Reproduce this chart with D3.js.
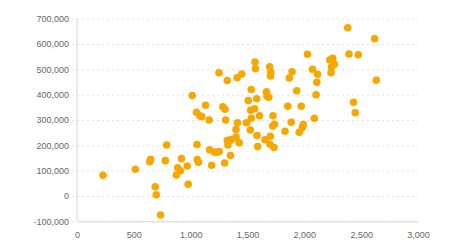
<!DOCTYPE html>
<html>
<head>
<meta charset="utf-8">
<script src="https://cdn.jsdelivr.net/npm/d3@7"></script>
<style>
  body { margin: 0; background: #fff; }
  .axis text { font-family: "Liberation Sans", Arial, sans-serif; font-size: 9px; fill: #666; }
</style>
</head>
<body>
<div id="chart"></div>
<script>
const WIDTH = 464
const HEIGHT = 250
const DOT_COLOR = '#f6a800'
const GRID_COLOR = '#e2e2e2'
const AXIS_COLOR = '#d6d6d6'

const X_TICKS = [0, 500, 1000, 1500, 2000, 2500, 3000]
const Y_TICKS = [-100000, 0, 100000, 200000, 300000, 400000, 500000, 600000, 700000]

// values
const xValues = [
  229, 513, 648, 640, 688, 697, 735, 777, 789, 919,
  970, 886, 909, 874, 978, 1056, 1058, 1069, 1014, 1131,
  1051, 1082, 1098, 1163, 1249, 1322, 1409, 1449, 1566, 1570,
  1695, 1705, 1702, 1892, 1868, 1533, 1507, 1581, 1667, 1672,
  1687, 1933, 1283, 1302, 1308, 1528, 1563, 1533, 1606, 1724,
  1855, 1973, 1412, 1491, 1399, 1525, 1584, 1722, 1738, 1830,
  1885, 1955, 1991, 1982, 1167, 1208, 1230, 1251, 1185, 1299,
  1350, 1322, 1342, 1357, 1399, 1328, 1427, 1590, 1654, 1701,
  1698, 1733, 2028, 2072, 2116, 2110, 2103, 2088, 2224, 2250,
  2264, 2239, 2235, 2382, 2393, 2475, 2619, 2633, 2433, 2448
]
const yValues = [
  81700, 105800, 145300, 135400, 36300, 5100, -75000, 139400, 201300, 147300,
  118400, 111700, 99900, 82900, 46200, 203300, 144100, 133400, 396800, 358100,
  330400, 317000, 312700, 300000, 486800, 456000, 466700, 481700, 529000, 502600,
  510500, 488800, 473800, 490700, 465900, 420500, 377000, 384100, 411800, 394000,
  390100, 415700, 352200, 342700, 300000, 338300, 344700, 307200, 317000, 317000,
  354100, 354500, 289000, 289400, 262500, 260600, 238900, 276400, 283500, 255400,
  291000, 251500, 282300, 270400, 182800, 173700, 172900, 175700, 121200, 130300,
  159900, 219100, 221100, 222300, 232900, 201300, 210000, 195400, 221900, 235700,
  204500, 191500, 559800, 500600, 480900, 449300, 399500, 307200, 536900, 544000,
  520300, 509300, 486800, 664400, 560600, 557800, 621000, 457200, 369900, 328900
]

const margin = {top: 18.7, right: 46, bottom: 28.7, left: 77}
const plotW = WIDTH - margin.left - margin.right
const plotH = HEIGHT - margin.top - margin.bottom

const svg = d3.select('#chart').append('svg')
  .attr('width', WIDTH).attr('height', HEIGHT)
const g = svg.append('g').attr('transform', `translate(${margin.left}, ${margin.top})`)

const x = d3.scaleLinear().domain([0, 3000]).range([0, plotW])
const y = d3.scaleLinear().domain([-100000, 700000]).range([plotH, 0])

const fmt = d3.formatLocale({decimal: '.', thousands: ',', grouping: [3], currency: ['', ''], minus: '-'}).format(',')

// horizontal grid lines, a little past the axis on the left
const yAxis = d3.axisLeft(y).tickValues(Y_TICKS).tickFormat(fmt).tickSize(5).tickPadding(3)
const yAxisEl = g.append('g').attr('class', 'axis').call(yAxis)
yAxisEl.select('.domain').remove()
yAxisEl.selectAll('.tick line')
  .attr('x2', plotW)
  .attr('x1', -5)
  .attr('stroke', GRID_COLOR)
  .attr('stroke-dasharray', '2,3')

// vertical axis line
g.append('line')
  .attr('x1', 0).attr('x2', 0)
  .attr('y1', 0).attr('y2', plotH)
  .attr('stroke', AXIS_COLOR)

// bottom axis
const xAxis = d3.axisBottom(x).tickValues(X_TICKS).tickFormat(fmt).tickSize(0).tickPadding(10)
const xAxisEl = g.append('g').attr('class', 'axis')
  .attr('transform', `translate(0, ${plotH})`)
  .call(xAxis)
xAxisEl.select('.domain').attr('stroke', AXIS_COLOR)

// dots
const points = xValues.map((v, i) => ({x: v, y: yValues[i]}))
g.append('g').selectAll('circle').data(points).enter()
  .append('circle')
  .attr('cx', d => x(d.x))
  .attr('cy', d => y(d.y))
  .attr('r', 3.8)
  .attr('fill', DOT_COLOR)
</script>
</body>
</html>
